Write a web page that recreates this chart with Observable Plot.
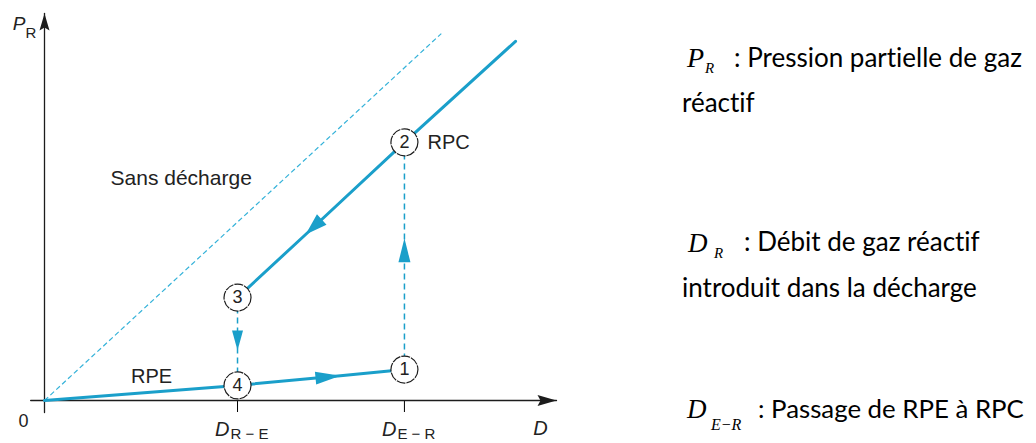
<!DOCTYPE html>
<html><head><meta charset="utf-8">
<script src="https://cdn.jsdelivr.net/npm/d3@7"></script>
<script src="https://cdn.jsdelivr.net/npm/@observablehq/plot@0.6"></script>
<style>
body{margin:0;background:#fff;}
#wrap{position:relative;width:1036px;height:443px;overflow:hidden;background:#fff;}
#chart{position:absolute;left:0;top:0;}
#legend{position:absolute;left:640px;top:0;width:396px;height:443px;}
.p{position:absolute;white-space:nowrap;line-height:0;color:#000;font-variant-ligatures:none;font-feature-settings:"liga" 0;}
</style></head><body><div id="wrap"><div id="chart"></div><div id="legend"></div></div>
<script>
// ---- data (D = débit, P = pression, arbitrary units) ----
const states = [
  {id: "1", D: 70.3, P: 8.0},
  {id: "2", D: 70.3, P: 66.7},
  {id: "3", D: 37.7, P: 26.6},
  {id: "4", D: 37.7, P: 3.9}
];
const rpeFromOrigin = [{D: 0, P: 0}, {D: 37.7, P: 3.9}];
const rpeForward = [{D: 37.7, P: 3.9}, {D: 57.8, P: 6.4}, {D: 70.3, P: 8.0}];
const rpcUpper = [{D: 70.3, P: 66.7}, {D: 92.0, P: 92.8}];
const rpcBackward = [{D: 70.3, P: 66.7}, {D: 51.0, P: 42.9}, {D: 37.7, P: 26.6}];
const jumpUp = [{D: 70.3, P: 8.0}, {D: 70.3, P: 41.9}, {D: 70.3, P: 66.7}];
const jumpDown = [{D: 37.7, P: 26.6}, {D: 37.7, P: 12.9}, {D: 37.7, P: 3.9}];
const noDischarge = [{D: 0, P: 0}, {D: 77.5, P: 94.8}];
const xAxisLine = [{D: -2.7, P: 0}, {D: 100, P: 0}];
const yAxisLine = [{D: 0, P: -3.1}, {D: 0, P: 100}];
const xTicks = [{D: 37.7, main: "D", sub: "R − E"}, {D: 70.3, main: "D", sub: "E − R"}];
const sansLabel = [{text: "Sans décharge", D: 12.9, P: 57.4}];
const rpeLabel = [{text: "RPE", D: 20.9, P: 6.2}];
const origin = [{D: 0, P: 0}];
const axisEnds = [{D: 100, P: 0, text: "D"}];
const yTop = [{D: 0, P: 100}];

// ---- styles ----
const cyan = "#1a9fca";
const cyanLight = "#34b2d9";
const ink = "#1c1c1c";
const font = "Liberation Sans, Arial, sans-serif";

function head(len, hw, color, notch = 0) {
  return () => {
    const ns = "http://www.w3.org/2000/svg";
    const m = document.createElementNS(ns, "marker");
    m.setAttribute("viewBox", `${-len - 1} ${-hw - 1} ${len + 2} ${2 * hw + 2}`);
    m.setAttribute("markerUnits", "userSpaceOnUse");
    m.setAttribute("markerWidth", len + 2);
    m.setAttribute("markerHeight", 2 * hw + 2);
    m.setAttribute("refX", 0);
    m.setAttribute("refY", 0);
    m.setAttribute("orient", "auto");
    m.setAttribute("overflow", "visible");
    const p = document.createElementNS(ns, "path");
    p.setAttribute("d", `M0,0L${-len},${-hw}L${-len + notch},0L${-len},${hw}Z`);
    p.setAttribute("fill", color);
    p.setAttribute("stroke", "none");
    m.appendChild(p);
    return m;
  };
}

const chart = Plot.plot({
  width: 640,
  height: 443,
  marginLeft: 44,
  marginRight: 84,
  marginTop: 13,
  marginBottom: 43,
  style: {fontFamily: font, background: "transparent", overflow: "visible"},
  x: {domain: [0, 100], ticks: xTicks.map(d => d.D), tickSize: 12, tickFormat: () => "", label: null},
  y: {domain: [0, 100], axis: null},
  marks: [
    Plot.line(xAxisLine, {x: "D", y: "P", stroke: ink, strokeWidth: 1.3, markerEnd: head(19, 5.5, ink, 3)}),
    Plot.line(yAxisLine, {x: "D", y: "P", stroke: ink, strokeWidth: 1.3, markerEnd: head(17, 5, ink, 3)}),
    Plot.line(noDischarge, {x: "D", y: "P", stroke: cyanLight, strokeWidth: 1.2, strokeDasharray: "5,3", strokeLinecap: "butt"}),
    Plot.line(rpeFromOrigin, {x: "D", y: "P", stroke: cyan, strokeWidth: 3}),
    Plot.line(rpeForward, {x: "D", y: "P", stroke: cyan, strokeWidth: 3, markerMid: head(25, 6.5, cyan)}),
    Plot.line(rpcUpper, {x: "D", y: "P", stroke: cyan, strokeWidth: 3}),
    Plot.line(rpcBackward, {x: "D", y: "P", stroke: cyan, strokeWidth: 3, markerMid: head(22, 7, cyan)}),
    Plot.line(jumpUp, {x: "D", y: "P", stroke: cyan, strokeWidth: 1.5, strokeDasharray: "6,4", strokeLinecap: "butt", markerMid: head(24, 6, cyan)}),
    Plot.line(jumpDown, {x: "D", y: "P", stroke: cyan, strokeWidth: 1.5, strokeDasharray: "6,4", strokeLinecap: "butt", markerMid: head(20, 5.5, cyan)}),
    Plot.dot(states, {x: "D", y: "P", r: 13.5, fill: "white", stroke: ink, strokeWidth: 1.2, strokeDasharray: "9,1"}),
    Plot.text(states, {x: "D", y: "P", text: "id", fontSize: 18, fill: "#222", fontFamily: font}),
    Plot.text(sansLabel, {x: "D", y: "P", text: "text", textAnchor: "start", fontSize: 21, fill: "#222", fontFamily: font}),
    Plot.text(rpeLabel, {x: "D", y: "P", text: "text", fontSize: 20, fill: "#222", fontFamily: font}),
    Plot.text([states[1]], {x: "D", y: "P", text: () => "RPC", textAnchor: "start", dx: 23, fontSize: 20, fill: "#222", fontFamily: font}),
    Plot.text(origin, {x: "D", y: "P", text: () => "0", dx: -21, dy: 21, fontSize: 18, fill: "#222", fontFamily: font}),
    Plot.text(axisEnds, {x: "D", y: "P", text: "text", dx: -16, dy: 34, lineAnchor: "bottom", fontSize: 20, fontStyle: "italic", fill: "#222", fontFamily: font}),
    Plot.text(yTop, {x: "D", y: "P", text: () => "P", textAnchor: "end", lineAnchor: "bottom", dx: -19, dy: 16, fontSize: 19, fontStyle: "italic", fill: "#222", fontFamily: font}),
    Plot.text(yTop, {x: "D", y: "P", text: () => "R", textAnchor: "start", lineAnchor: "bottom", dx: -19, dy: 24, fontSize: 15, fill: "#222", fontFamily: font}),
    Plot.text(xTicks, {x: "D", y: () => 0, text: "main", textAnchor: "end", lineAnchor: "bottom", dx: -8, dy: 35, fontSize: 20, fontStyle: "italic", fill: "#222", fontFamily: font}),
    Plot.text(xTicks, {x: "D", y: () => 0, text: "sub", textAnchor: "start", lineAnchor: "bottom", dx: -7, dy: 38, fontSize: 15, fill: "#222", fontFamily: font})
  ]
});
document.getElementById("chart").appendChild(chart);

// ---- legend text on the right ----
const ctx = document.createElement("canvas").getContext("2d");
ctx.font = "100px Lato";
const pieces = [
  {t: "P", left: 47, base: 67, serif: true, size: 28},
  {t: "R", left: 65, base: 73, serif: true, size: 15},
  {t: ": Pression partielle de gaz", left: 94, base: 67, w: 298},
  {t: "réactif", left: 42, base: 112, w: 75},
  {t: "D", left: 48, base: 252, serif: true, size: 27},
  {t: "R", left: 74, base: 258, serif: true, size: 15},
  {t: ": Débit de gaz réactif", left: 104, base: 251, w: 241},
  {t: "introduit dans la décharge", left: 42, base: 297, w: 310},
  {t: "D", left: 47, base: 418, serif: true, size: 27},
  {t: "E−R", left: 71, base: 430, serif: true, size: 16},
  {t: ": Passage de RPE à RPC", left: 118, base: 418, w: 266}
];
const legend = document.getElementById("legend");
for (const p of pieces) {
  const el = document.createElement("div");
  el.className = "p";
  el.textContent = p.t;
  const size = p.serif ? p.size : Math.min(26, 100 * p.w / ctx.measureText(p.t).width);
  const mid = p.serif ? (0.891 - 0.216) / 2 : (0.987 - 0.213) / 2;
  el.style.fontFamily = p.serif ? "Liberation Serif, serif" : "Lato, sans-serif";
  el.style.fontStyle = p.serif ? "italic" : "normal";
  el.style.fontSize = size + "px";
  el.style.left = p.left + "px";
  el.style.top = (p.base - mid * size) + "px";
  legend.appendChild(el);
}
</script>
</body></html>
